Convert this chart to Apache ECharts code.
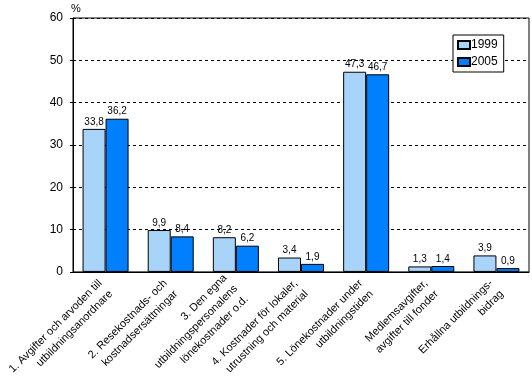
<!DOCTYPE html>
<html>
<head>
<meta charset="utf-8">
<script src="https://cdn.jsdelivr.net/npm/echarts@6/dist/echarts.min.js"></script>
<style>html,body{margin:0;padding:0;background:#fff}#c{width:532px;height:389px}</style>
</head>
<body>
<div id="c"></div>
<script>
var categories = [
  "1. Avgifter och arvoden till\nutbildningsanordnare",
  "2. Resekostnads- och\nkostnadsersättningar",
  "3. Den egna\nutbildningspersonalens\nlönekostnader o.d.",
  "4. Kostnader för lokaler,\nutrustning och material",
  "5. Lönekostnader under\nutbildningstiden",
  "Medlemsavgifter,\navgifter till fonder",
  "Erhållna utbildnings-\nbidrag"
];
var seriesNames = ["1999", "2005"];
var values1999 = [33.8, 9.9, 8.2, 3.4, 47.3, 1.3, 3.9];
var values2005 = [36.2, 8.4, 6.2, 1.9, 46.7, 1.4, 0.9];
var yTicks = [0, 10, 20, 30, 40, 50, 60];

var font = "Liberation Sans, Arial, sans-serif";
var chart = echarts.init(document.getElementById('c'), null, {renderer: 'canvas'});
function lbl(p) { return String(p.value).replace('.', ','); }
chart.setOption({
  animation: false,
  textStyle: {fontFamily: font},
  grid: {left: 73, right: 3, top: 18, bottom: 112, show: true, borderColor: '#000', borderWidth: 1, backgroundColor: 'transparent'},
  legend: {
    orient: 'vertical', left: 453, top: 35, padding: [4, 6, 4, 4],
    backgroundColor: '#fff', borderColor: '#000', borderWidth: 1,
    itemWidth: 12, itemHeight: 8, itemGap: 5,
    icon: 'rect',
    textStyle: {fontSize: 12, color: '#000', fontFamily: font, padding: [0, 0, 0, -4]},
    data: seriesNames
  },
  xAxis: {
    type: 'category', data: categories,
    axisLine: {lineStyle: {color: '#000', width: 1}},
    axisTick: {show: false},
    axisLabel: {rotate: 45, interval: 0, fontSize: 11, color: '#000', fontFamily: font, margin: 15, lineHeight: 15}
  },
  yAxis: {
    type: 'value', min: yTicks[0], max: yTicks[yTicks.length - 1], interval: 10,
    name: '%', nameLocation: 'end', nameGap: 4,
    nameTextStyle: {fontSize: 11, color: '#000', align: 'left', padding: [0, 0, 0, -2], fontFamily: font},
    axisLine: {show: true, lineStyle: {color: '#000', width: 1}},
    axisTick: {show: true, length: 3, lineStyle: {color: '#000'}},
    axisLabel: {fontSize: 12, color: '#000', margin: 10, fontFamily: font},
    splitLine: {show: true, lineStyle: {color: '#000', type: [3, 3], width: 1}}
  },
  series: [
    {name: seriesNames[0], type: 'bar', data: values1999, barWidth: 23, barGap: '0%',
     itemStyle: {color: '#a8d4fa', borderColor: '#000', borderWidth: 1},
     label: {show: true, position: 'top', distance: 2, fontSize: 10, color: '#000', formatter: lbl, fontFamily: font}},
    {name: seriesNames[1], type: 'bar', data: values2005, barWidth: 23, barGap: '0%',
     itemStyle: {color: '#0080ff', borderColor: '#000', borderWidth: 1},
     label: {show: true, position: 'top', distance: 2, fontSize: 10, color: '#000', formatter: lbl, fontFamily: font}}
  ]
});
</script>
</body>
</html>
